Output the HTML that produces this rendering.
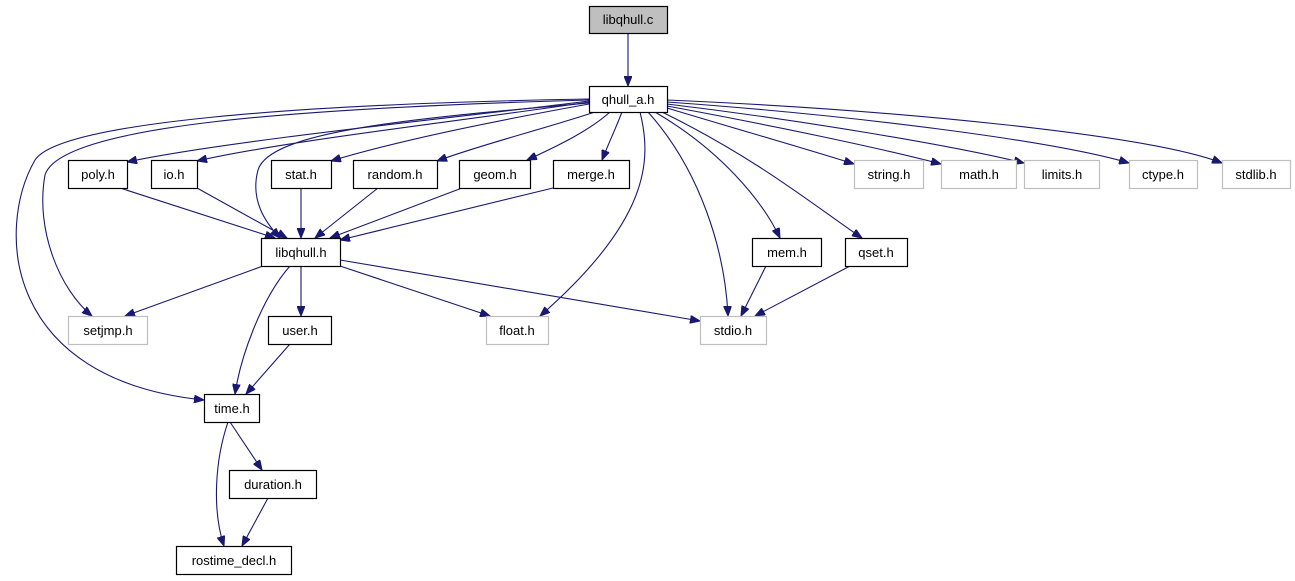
<!DOCTYPE html>
<html><head><meta charset="utf-8"><style>
html,body{margin:0;padding:0;background:#fff;}
svg{display:block}
text{font-family:"Liberation Sans",sans-serif;font-size:13px;text-anchor:middle;fill:#000}
.e{fill:none;stroke:#191970;stroke-width:1.1}
.n{fill:#fff;stroke:#000;stroke-width:1.2}
.g{fill:#fff;stroke:#bfbfbf;stroke-width:1.2}
</style></head><body>
<svg width="1295" height="581" viewBox="0 0 1295 581" xmlns="http://www.w3.org/2000/svg">
<defs><marker id="a" markerWidth="11" markerHeight="8" refX="10" refY="4" orient="auto" markerUnits="userSpaceOnUse"><path d="M0,0 L10,4 L0,8 z" fill="#191970" stroke="#191970"/></marker></defs>
<g class="e" marker-end="url(#a)">
<path d="M628,33 L628,86"/>
<path d="M589,101 C480,115 230,140 127,162"/>
<path d="M589,102 C470,120 290,140 197,161"/>
<path d="M589,104 C500,120 400,140 331,161"/>
<path d="M595,112 C540,130 480,145 437,161"/>
<path d="M610,112 C590,130 560,145 527,160"/>
<path d="M622,112 C615,130 608,145 602,160"/>
<path d="M589,103 C420,118 270,130 258,170 C250,200 265,222 280,238"/>
<path d="M589,100 C300,108 60,125 45,175 C35,230 60,290 92,316"/>
<path d="M589,99 C300,104 60,122 35,160 C-5,230 5,380 204,400"/>
<path d="M640,112 C652,160 650,220 540,316"/>
<path d="M648,112 C700,170 725,250 728,316"/>
<path d="M655,112 C720,150 762,200 780,238"/>
<path d="M662,112 C760,160 820,210 862,238"/>
<path d="M667,108 C740,130 810,150 854,164"/>
<path d="M667,106 C770,125 880,148 941,164"/>
<path d="M667,104 C800,120 950,145 1024,163"/>
<path d="M667,102 C850,115 1050,140 1129,163"/>
<path d="M667,100 C900,110 1150,135 1222,163"/>
<path d="M120,188 L275,238"/>
<path d="M197,188 L287,238"/>
<path d="M301,188 L301,238"/>
<path d="M378,188 L315,238"/>
<path d="M462,188 L330,238"/>
<path d="M553,188 L340,240"/>
<path d="M263,266 L125,316"/>
<path d="M290,266 C260,300 240,360 235,394"/>
<path d="M301,266 L301,316"/>
<path d="M340,266 L490,316"/>
<path d="M340,260 L700,321"/>
<path d="M766,266 L741,316"/>
<path d="M850,266 L755,316"/>
<path d="M290,344 L246,394"/>
<path d="M230,422 L262,470"/>
<path d="M228,422 C215,460 212,510 224,546"/>
<path d="M268,498 L242,546"/>
</g>
<rect x="589.5" y="6.5" width="78" height="27" fill="#bfbfbf" stroke="#000" stroke-width="1.2"/><text x="628" y="24">libqhull.c</text>
<rect class="n" x="589.5" y="86.5" width="78" height="26"/><text x="628" y="104">qhull_a.h</text>
<rect class="n" x="68.5" y="160.5" width="59" height="28"/><text x="98" y="179">poly.h</text>
<rect class="n" x="151.5" y="160.5" width="46" height="28"/><text x="174" y="179">io.h</text>
<rect class="n" x="271.5" y="160.5" width="60" height="28"/><text x="301" y="179">stat.h</text>
<rect class="n" x="353.5" y="160.5" width="84" height="28"/><text x="395" y="179">random.h</text>
<rect class="n" x="459.5" y="160.5" width="71" height="28"/><text x="495" y="179">geom.h</text>
<rect class="n" x="553.5" y="160.5" width="76" height="28"/><text x="591" y="179">merge.h</text>
<rect class="g" x="854.5" y="160.5" width="69" height="28"/><text x="889" y="179">string.h</text>
<rect class="g" x="941.5" y="160.5" width="75" height="28"/><text x="979" y="179">math.h</text>
<rect class="g" x="1024.5" y="160.5" width="75" height="28"/><text x="1062" y="179">limits.h</text>
<rect class="g" x="1129.5" y="160.5" width="68" height="28"/><text x="1163" y="179">ctype.h</text>
<rect class="g" x="1222.5" y="160.5" width="68" height="28"/><text x="1256" y="179">stdlib.h</text>
<rect class="n" x="261.5" y="238.5" width="79" height="28"/><text x="301" y="257">libqhull.h</text>
<rect class="n" x="752.5" y="238.5" width="69" height="28"/><text x="787" y="257">mem.h</text>
<rect class="n" x="845.5" y="238.5" width="62" height="28"/><text x="876" y="257">qset.h</text>
<rect class="g" x="68.5" y="316.5" width="79" height="28"/><text x="108" y="335">setjmp.h</text>
<rect class="n" x="268.5" y="316.5" width="63" height="28"/><text x="300" y="335">user.h</text>
<rect class="g" x="486.5" y="316.5" width="62" height="28"/><text x="517" y="335">float.h</text>
<rect class="g" x="700.5" y="316.5" width="66" height="28"/><text x="733" y="335">stdio.h</text>
<rect class="n" x="204.5" y="394.5" width="55" height="28"/><text x="232" y="413">time.h</text>
<rect class="n" x="229.5" y="470.5" width="87" height="28"/><text x="273" y="489">duration.h</text>
<rect class="n" x="176.5" y="546.5" width="115" height="28"/><text x="234" y="565">rostime_decl.h</text>
</svg>
</body></html>
